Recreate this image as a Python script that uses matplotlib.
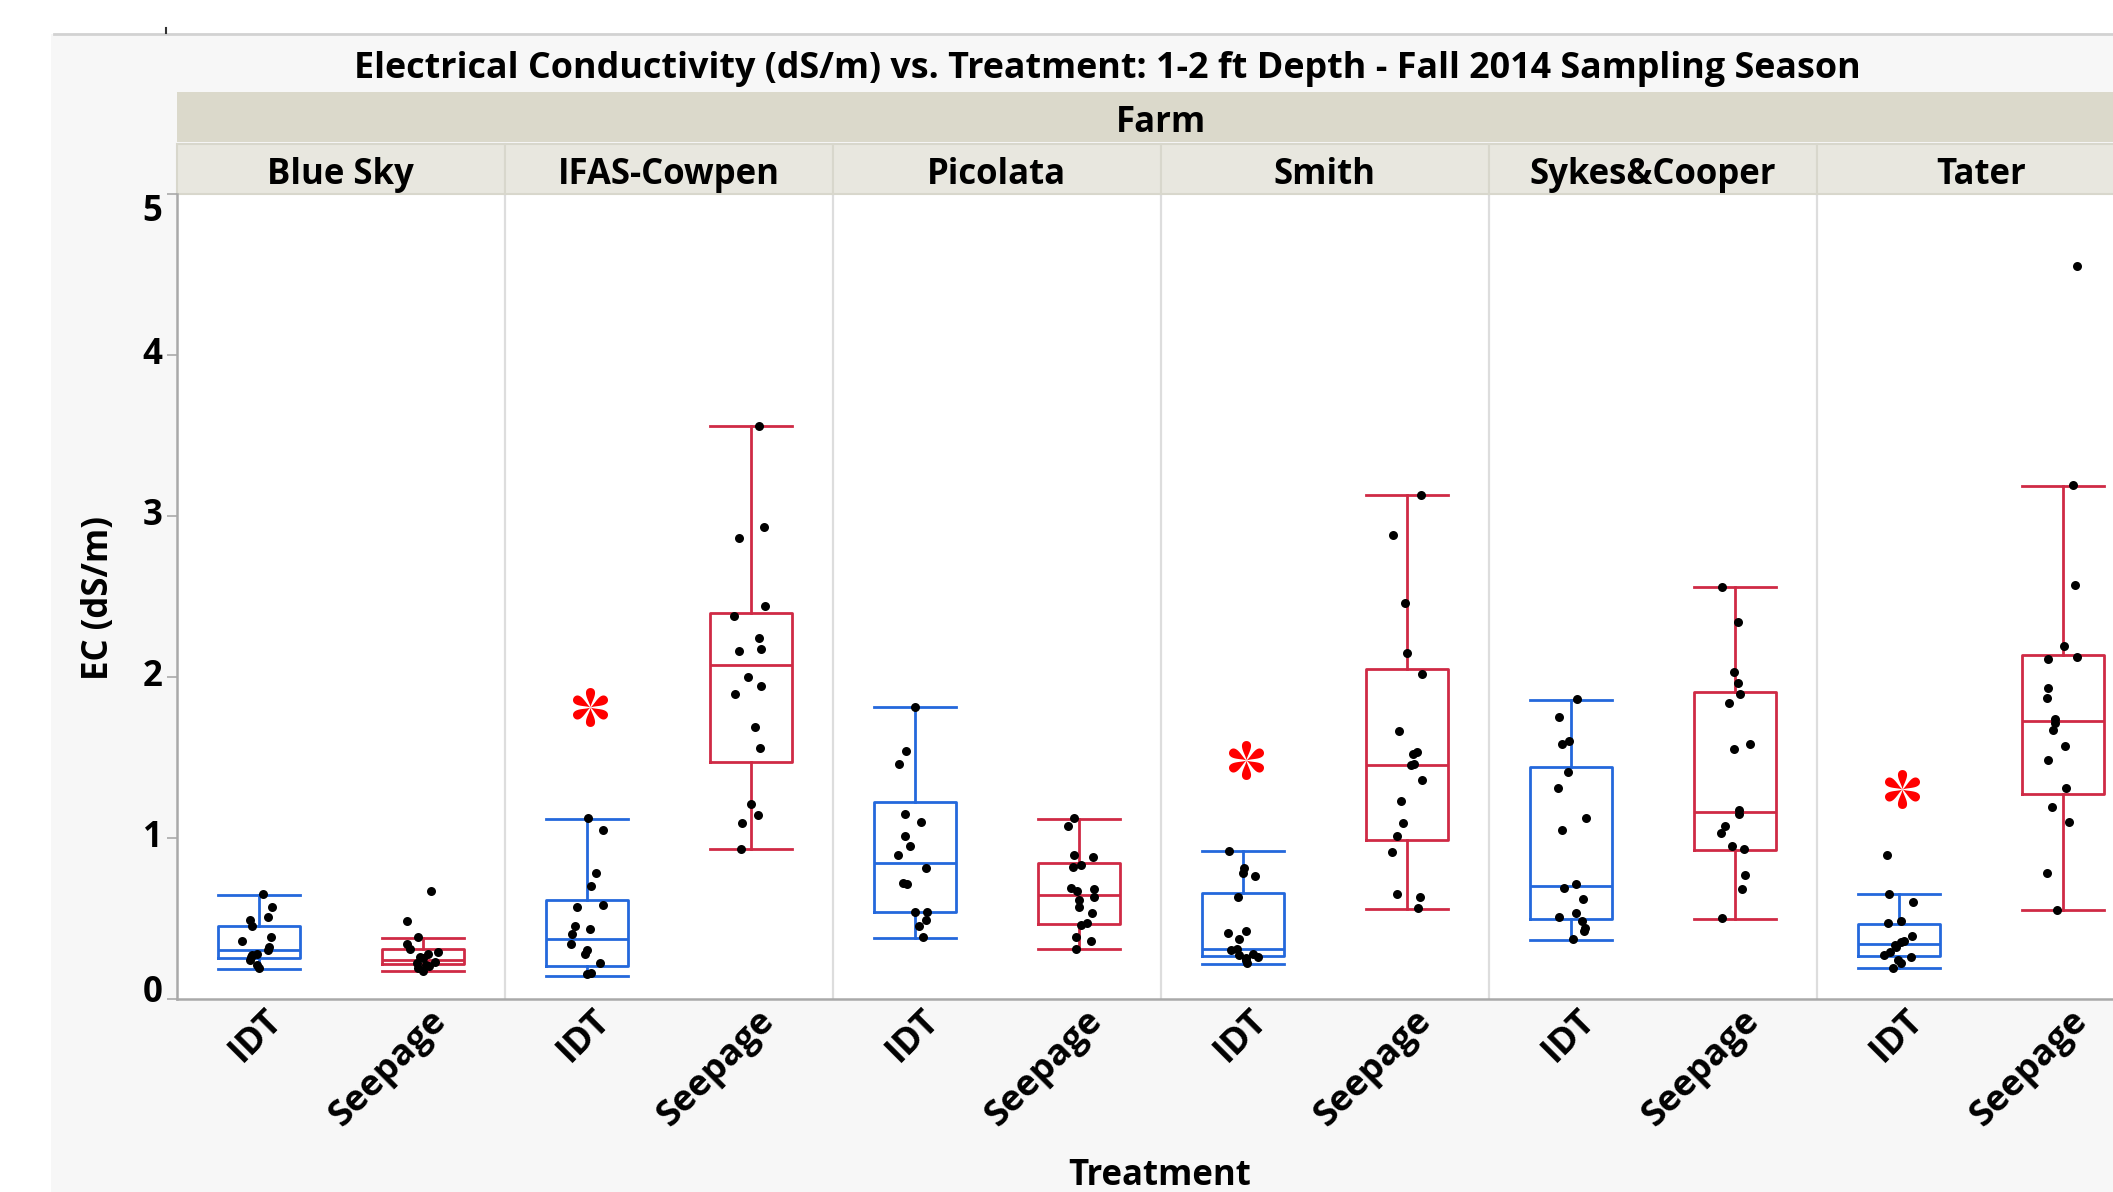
import matplotlib
matplotlib.use("Agg")
import matplotlib.pyplot as plt
import numpy as np
from matplotlib.patches import Rectangle
from matplotlib.lines import Line2D
from matplotlib.path import Path
from matplotlib import transforms

# ---------------- data ----------------
farms = ["Blue Sky", "IFAS-Cowpen", "Picolata", "Smith", "Sykes&Cooper", "Tater"]
treatments = ["IDT", "Seepage"]

# individual observations (EC, dS/m)
bluesky_idt = [0.65, 0.57, 0.51, 0.49, 0.45, 0.38, 0.36, 0.32, 0.30, 0.28, 0.27, 0.26, 0.24, 0.21, 0.19]
bluesky_seep = [0.67, 0.48, 0.38, 0.34, 0.31, 0.29, 0.28, 0.26, 0.25, 0.23, 0.22, 0.21, 0.20, 0.19, 0.17]
ifas_idt = [1.12, 1.05, 0.78, 0.70, 0.58, 0.57, 0.45, 0.43, 0.40, 0.34, 0.30, 0.28, 0.22, 0.16, 0.15]
ifas_seep = [3.56, 2.93, 2.86, 2.44, 2.38, 2.24, 2.17, 2.16, 2.00, 1.94, 1.89, 1.69, 1.56, 1.21, 1.14, 1.09, 0.93]
picolata_idt = [1.81, 1.54, 1.46, 1.15, 1.10, 1.01, 0.95, 0.89, 0.81, 0.72, 0.71, 0.54, 0.54, 0.49, 0.45, 0.38]
picolata_seep = [1.12, 1.07, 0.89, 0.88, 0.83, 0.82, 0.69, 0.68, 0.67, 0.63, 0.61, 0.57, 0.53, 0.47, 0.46, 0.38, 0.36, 0.31]
smith_idt = [0.92, 0.81, 0.78, 0.76, 0.63, 0.42, 0.41, 0.37, 0.31, 0.30, 0.28, 0.27, 0.26, 0.25, 0.24, 0.22]
smith_seep = [3.13, 2.88, 2.46, 2.15, 2.02, 1.66, 1.53, 1.52, 1.46, 1.45, 1.36, 1.23, 1.09, 1.01, 0.91, 0.65, 0.63, 0.56]
sykes_idt = [1.86, 1.75, 1.60, 1.58, 1.41, 1.31, 1.12, 1.05, 0.71, 0.69, 0.62, 0.53, 0.51, 0.48, 0.44, 0.42, 0.37]
sykes_seep = [2.56, 2.34, 2.03, 1.96, 1.89, 1.84, 1.58, 1.55, 1.17, 1.15, 1.07, 1.03, 0.95, 0.93, 0.77, 0.68, 0.50]
tater_idt = [0.89, 0.65, 0.60, 0.48, 0.47, 0.39, 0.36, 0.35, 0.33, 0.32, 0.29, 0.27, 0.26, 0.24, 0.22, 0.19]
tater_seep = [4.55, 3.19, 2.57, 2.19, 2.12, 2.11, 1.93, 1.87, 1.74, 1.71, 1.67, 1.57, 1.48, 1.31, 1.19, 1.10, 0.78, 0.55]

# box-plot summaries per farm (order of `farms`)
idt_lo = [0.185, 0.143, 0.374, 0.212, 0.366, 0.188]
idt_q1 = [0.253, 0.205, 0.536, 0.267, 0.497, 0.264]
idt_med = [0.299, 0.371, 0.842, 0.306, 0.698, 0.338]
idt_q3 = [0.454, 0.610, 1.221, 0.656, 1.440, 0.465]
idt_hi = [0.645, 1.118, 1.812, 0.918, 1.855, 0.647]

seep_lo = [0.170, 0.927, 0.306, 0.557, 0.494, 0.548]
seep_q1 = [0.212, 1.473, 0.463, 0.988, 0.924, 1.272]
seep_med = [0.239, 2.075, 0.643, 1.451, 1.160, 1.727]
seep_q3 = [0.309, 2.394, 0.842, 2.047, 1.906, 2.135]
seep_hi = [0.378, 3.560, 1.116, 3.129, 2.559, 3.184]

# significance markers (red asterisk above IDT box)
sig_farms = ["IFAS-Cowpen", "Smith", "Tater"]
sig_y = [1.81, 1.48, 1.30]

y_ticks = [0, 1, 2, 3, 4, 5]

# ---------------- style ----------------
W, H = 2113, 1192
FONT = "Open Sans"
BLUE = "#2468dc"
RED = "#cf2a45"
FS = 25

plt.rcParams["font.family"] = [FONT, "DejaVu Sans"]
plt.rcParams["font.weight"] = "bold"

fig = plt.figure(figsize=(W / 100, H / 100), dpi=100, facecolor="white")

def fy(px):  # pixel-from-top -> figure fraction
    return 1 - px / H

def fx(px):
    return px / W

# JMP frame background
fig.patches.append(Rectangle((fx(51), 0), 1, fy(34), transform=fig.transFigure,
                             facecolor="#f7f7f7", edgecolor="none", zorder=-10))
fig.lines.append(Line2D([fx(54), 1], [fy(34), fy(34)], transform=fig.transFigure,
                        color="#d2d2d2", lw=2, zorder=-9))
fig.lines.append(Line2D([fx(166), fx(166)], [fy(28), fy(33)], transform=fig.transFigure,
                        color="#333333", lw=1.5, zorder=-9))

left_px, right_px, top_px, bot_px = 176.5, 2145, 194, 998.6
ax = fig.add_axes([fx(left_px), fy(bot_px), (right_px - left_px) / W, (bot_px - top_px) / H])
ax.set_zorder(1)
ax.set_facecolor("white")
n = len(farms)
ax.set_xlim(0, 2 * n)
ax.set_ylim(0, 5)

for s in ["top", "right"]:
    ax.spines[s].set_visible(False)
for s in ["left", "bottom"]:
    ax.spines[s].set_color("#a9a9a9")
    ax.spines[s].set_linewidth(1.8)

for i in range(1, n):
    ax.axvline(2 * i, color="#dddddd", lw=1.6, zorder=0)

# box plots
groups_idt = [bluesky_idt, ifas_idt, picolata_idt, smith_idt, sykes_idt, tater_idt]
groups_seep = [bluesky_seep, ifas_seep, picolata_seep, smith_seep, sykes_seep, tater_seep]

def stats(lo, q1, med, q3, hi):
    return [dict(whislo=a, q1=b, med=c, q3=d, whishi=e, fliers=[])
            for a, b, c, d, e in zip(lo, q1, med, q3, hi)]

pos_idt = [2 * i + 0.5 for i in range(n)]
pos_seep = [2 * i + 1.5 for i in range(n)]

for st, pos, col in [(stats(idt_lo, idt_q1, idt_med, idt_q3, idt_hi), pos_idt, BLUE),
                     (stats(seep_lo, seep_q1, seep_med, seep_q3, seep_hi), pos_seep, RED)]:
    lp = dict(color=col, linewidth=2.0)
    ax.bxp(st, positions=pos, widths=0.5, capwidths=0.5, showfliers=False,
           boxprops=lp, whiskerprops=lp, capprops=lp, medianprops=lp,
           manage_ticks=False, zorder=2)

rng = np.random.default_rng(7)
for groups, pos in [(groups_idt, pos_idt), (groups_seep, pos_seep)]:
    for vals, p in zip(groups, pos):
        jit = rng.uniform(-0.1, 0.1, len(vals))
        ax.scatter(p + jit, vals, s=42, color="black", zorder=4, linewidths=0)

# teardrop 6-petal asterisk marker
t = np.linspace(0, 2 * np.pi, 80)
px_ = 0.5 * (1 - np.cos(t))
py_ = 0.36 * np.sin(t) * np.sin(t / 2) ** 2
petals = []
for ang in np.deg2rad([90, 30, -30, -90, -150, 150]):
    c, s_ = np.cos(ang), np.sin(ang)
    verts = np.column_stack([px_ * c - py_ * s_, px_ * s_ + py_ * c])
    petals.append(Path(verts, closed=True))
ast = Path.make_compound_path(*petals)
for f, yv in zip(sig_farms, sig_y):
    i = farms.index(f)
    ax.plot(pos_idt[i] + 0.02, yv, marker=ast, markersize=28, color="#ff0000",
            markeredgewidth=0, linestyle="none", zorder=5)

# y ticks (labels drawn as text so the end labels can sit inside like JMP)
ax.set_yticks(y_ticks)
ax.set_yticklabels([])
ax.tick_params(axis="y", length=7, width=1.2, color="#a9a9a9")
ytr = transforms.blended_transform_factory(ax.transAxes, ax.transData)
for v in y_ticks:
    off = transforms.ScaledTranslation(-14 / 100, 0, fig.dpi_scale_trans)
    va = "center"
    if v == y_ticks[-1]:
        va = "top"
    elif v == y_ticks[0]:
        off = transforms.ScaledTranslation(-14 / 100, 6 / 100, fig.dpi_scale_trans)
    ax.text(0, v, str(v), transform=ytr + off, ha="right", va=va,
            fontsize=FS, fontweight="bold", clip_on=False)

# x tick labels (rotated 45 degrees, drawn as text)
ax.set_xticks([])
xtr = transforms.blended_transform_factory(ax.transData, ax.transAxes)
xoff = transforms.ScaledTranslation(6 / 100, -4 / 100, fig.dpi_scale_trans)
for i in range(n):
    for p, lab in zip([pos_idt[i], pos_seep[i]], treatments):
        ax.text(p, 0, lab, transform=xtr + xoff, rotation=45, ha="right", va="top",
                rotation_mode="anchor", fontsize=26, fontweight="bold", clip_on=False)

# header bands
bt = transforms.blended_transform_factory(ax.transAxes, fig.transFigure)
ax.add_patch(Rectangle((0, fy(142)), 1.05, fy(92) - fy(142), transform=bt,
                       facecolor="#dbd9cb", edgecolor="none", clip_on=False, zorder=1))
fig.text(fx((left_px + right_px) / 2), fy(123), "Farm", ha="center", va="center",
         fontsize=FS, fontweight="bold", zorder=5)
bt2 = transforms.blended_transform_factory(ax.transData, fig.transFigure)
for i, f in enumerate(farms):
    ax.add_patch(Rectangle((2 * i, fy(194)), 2, fy(144) - fy(194), transform=bt2,
                           facecolor="#e8e7df", edgecolor="#d8d7cc", lw=1.5,
                           clip_on=False, zorder=1))
    ax.text(2 * i + 1, fy(175), f, transform=bt2, ha="center", va="center",
            fontsize=FS, fontweight="bold", clip_on=False)

# titles
fig.text(fx(1107), fy(69), "Electrical Conductivity (dS/m) vs. Treatment: 1-2 ft Depth - Fall 2014 Sampling Season",
         ha="center", va="center", fontsize=25.8, fontweight="bold")
fig.text(fx(99), fy(598), "EC (dS/m)", rotation=90, ha="center", va="center",
         fontsize=FS, fontweight="bold")
fig.text(fx(1160), fy(1176), "Treatment", ha="center", va="center",
         fontsize=FS, fontweight="bold")

fig.savefig("out.png", dpi=100, facecolor="white")
